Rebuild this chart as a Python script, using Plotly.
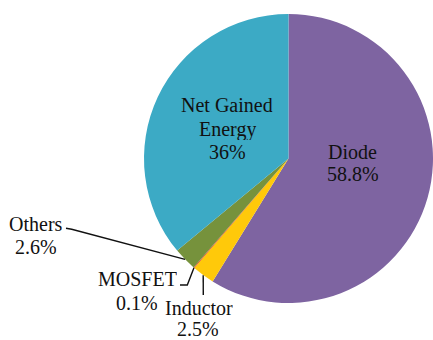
import math
import plotly.graph_objects as go

# Energy breakdown (percent), clockwise from 12 o'clock
categories = ["Diode", "Inductor", "MOSFET", "Others", "Net Gained Energy"]
values = [58.8, 2.5, 0.1, 2.6, 36]
colors = ["#7E64A1", "#FFC90A", "#E2471C", "#76923C", "#3CAAC5"]

W, H = 433, 340
FONT = dict(family="Liberation Serif", size=20, color="#111111")

# pie placement in pixels
cx, cy, r = 288.5, 158.5, 144.5


def px(x):
    return min(max(x / W, 0.0), 1.0)


def py(y):
    return min(max(1 - y / H, 0.0), 1.0)


fig = go.Figure(go.Pie(
    labels=categories,
    values=values,
    sort=False,
    direction="clockwise",
    rotation=0,
    marker=dict(colors=colors, line=dict(width=0)),
    textinfo="none",
    hoverinfo="label+percent",
    domain=dict(x=[px(cx - r), px(cx + r)], y=[py(cy + r), py(cy - r)]),
))

# mid-angle of each wedge (degrees clockwise from 12 o'clock)
total = sum(values)
mid_angle = {}
acc = 0.0
for c, v in zip(categories, values):
    mid_angle[c] = (acc + v / 2) / total * 360
    acc += v


def rim_point(cat):
    a = math.radians(mid_angle[cat])
    return cx + r * math.sin(a), cy - r * math.cos(a)


def pct(v):
    return f"{v:g}%"


vals = dict(zip(categories, values))

# label text lines with their anchor positions (px)
label_lines = [
    ("Net Gained", 227, 105), ("Energy", 227, 128.5), (pct(vals["Net Gained Energy"]), 227, 151.5),
    ("Diode", 352.5, 151.5), (pct(vals["Diode"]), 352.5, 174),
    ("Others", 36, 223.5), (pct(vals["Others"]), 36, 246.5),
    ("MOSFET", 137, 279), (pct(vals["MOSFET"]), 137, 303),
    ("Inductor", 199, 307.5), (pct(vals["Inductor"]), 198, 329),
]

annotations = [
    dict(text=t, x=px(x), y=py(y), xref="paper", yref="paper", height=22,
         xanchor="center", yanchor="middle", showarrow=False, font=FONT)
    for t, x, y in label_lines
]

# leader lines: from label to the rim of the small wedges
leaders = {
    "Others": [(66, 228.3), (71.7, 229.3)],
    "MOSFET": [(180, 285), (187.3, 285)],
    "Inductor": [(203.3, 295)],
}
shapes = []
for cat, pts in leaders.items():
    path_pts = pts + [rim_point(cat)]
    d = "M " + " L ".join(f"{px(x):.5f},{py(y):.5f}" for x, y in path_pts)
    shapes.append(dict(type="path", path=d, xref="paper", yref="paper",
                       line=dict(color="#111111", width=1.4)))

fig.update_layout(
    width=W, height=H,
    margin=dict(l=0, r=0, t=0, b=0),
    paper_bgcolor="white",
    plot_bgcolor="white",
    showlegend=False,
    annotations=annotations,
    shapes=shapes,
)

fig.write_html("out.html")
